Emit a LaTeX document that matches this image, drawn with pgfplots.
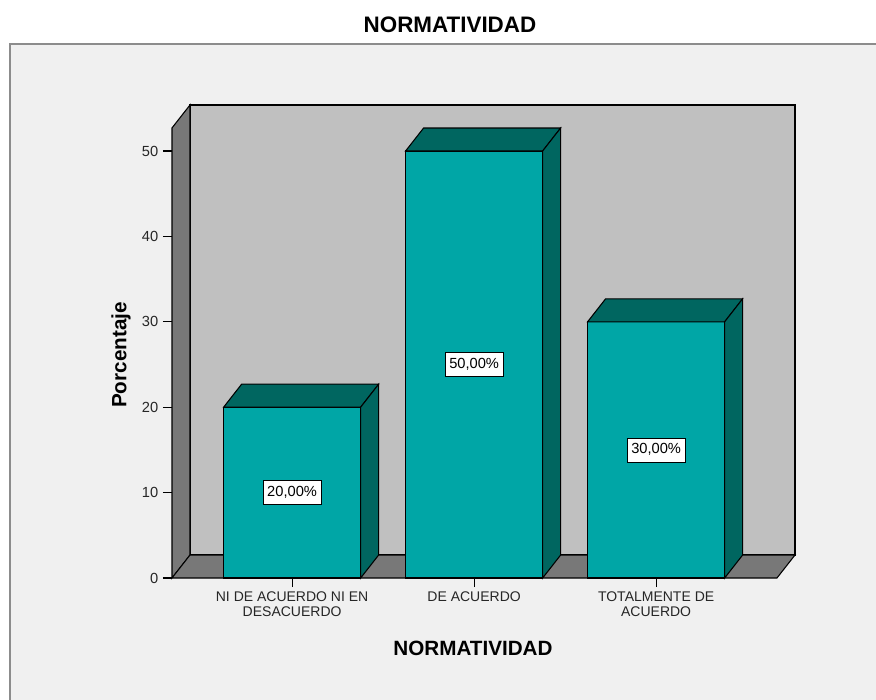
\documentclass[border=0pt]{standalone}
\usepackage{pgfplots}
\pgfplotsset{compat=1.18}
\usepackage{pgfplotstable}
\usepackage{fontspec}
\setmainfont{Liberation Sans}
\definecolor{bgframe}{HTML}{F0F0F0}
\definecolor{framegray}{HTML}{8C8C8C}
\definecolor{backwall}{HTML}{C0C0C0}
\definecolor{sidewall}{HTML}{787878}
\definecolor{barfront}{HTML}{00A6A6}
\definecolor{bardark}{HTML}{006660}

\pgfplotstableread{
x y
0 20
1 50
2 30
}\data

\newcommand{\bw}{0.753}
\newcommand{\ddx}{0.0989}
\newcommand{\ddy}{2.693}

\begin{document}
\begin{tikzpicture}
\useasboundingbox (0,0) rectangle (657pt,-525pt);
\fill[white] (0,0) rectangle (657pt,-525pt);
\draw[framegray, line width=1.5pt, fill=bgframe] (7.5pt,-33pt) rectangle (680pt,-540pt);
\begin{axis}[
  at={(129pt,-433.5pt)}, anchor=south west,
  x=136.5pt, y=6.405pt,
  xmin=-0.66, xmax=2.763, ymin=0, ymax=55.39,
  clip=false,
  axis lines*=left,
  axis line style={draw=none},
  /pgf/number format/assume math mode=true,
  tick align=outside,
  major tick length=6.75pt,
  tick style={black, line width=0.8pt},
  ytick={0,10,20,30,40,50},
  xtick={0,1,2},
  xticklabels={{NI DE ACUERDO NI EN\\DESACUERDO},{DE ACUERDO},{TOTALMENTE DE\\ACUERDO}},
  xticklabel style={align=center, font=\fontsize{10.5}{11.25}\selectfont, text=black!85},
  yticklabel style={font=\fontsize{11}{13}\selectfont, text=black!85},
  title={NORMATIVIDAD},
  title style={at={(axis description cs:0.4462,1.152)}, anchor=center, font=\bfseries\fontsize{16.8}{19}\selectfont},
  xlabel={NORMATIVIDAD},
  xlabel style={at={(axis description cs:0.4831,-0.148)}, anchor=center, font=\bfseries\fontsize{15.5}{18}\selectfont},
  ylabel={Porcentaje},
  ylabel style={at={(axis description cs:-0.0819,0.4715)}, anchor=center, font=\bfseries\fontsize{15.5}{18}\selectfont},
]
% walls
\addplot[forget plot, fill=backwall, draw=black, line width=0.8pt] coordinates {(-0.5611,2.693) (2.763,2.693) (2.763,55.39) (-0.5611,55.39)} -- cycle;
\addplot[forget plot, fill=sidewall, draw=black, line width=0.8pt] coordinates {(-0.66,0) (-0.5611,2.693) (-0.5611,55.39) (-0.66,52.70)} -- cycle;
\addplot[forget plot, fill=sidewall, draw=black, line width=0.8pt] coordinates {(-0.66,0) (2.664,0) (2.763,2.693) (-0.5611,2.693)} -- cycle;
% bar fronts
\addplot[ybar, bar width=\bw, bar shift=0pt, fill=barfront, draw=black, line width=0.8pt, forget plot] table[x=x, y=y] {\data};
% bar tops and sides
\pgfplotsinvokeforeach{0,1,2}{
  \pgfplotstablegetelem{#1}{x}\of\data \let\cx\pgfplotsretval
  \pgfplotstablegetelem{#1}{y}\of\data \let\cy\pgfplotsretval
  \pgfmathsetmacro\xl{\cx-\bw/2}
  \pgfmathsetmacro\xr{\cx+\bw/2}
  \pgfmathsetmacro\xld{\xl+\ddx}
  \pgfmathsetmacro\xrd{\xr+\ddx}
  \pgfmathsetmacro\cyd{\cy+\ddy}
  \edef\temp{\noexpand\addplot[forget plot, fill=bardark, draw=black, line width=0.8pt] coordinates {(\xl,\cy) (\xr,\cy) (\xrd,\cyd) (\xld,\cyd)} -- cycle;
    \noexpand\addplot[forget plot, fill=bardark, draw=black, line width=0.8pt] coordinates {(\xr,0) (\xr,\cy) (\xrd,\cyd) (\xrd,\ddy)} -- cycle;}
  \temp
}
% value labels
\addplot[draw=none, mark=none, forget plot, point meta=explicit,
  nodes near coords={\pgfmathprintnumber[fixed, fixed zerofill, precision=2, use comma]{\pgfplotspointmeta}\%},
  every node near coord/.style={anchor=center, fill=white, draw=black, line width=0.6pt, font=\fontsize{11}{13}\selectfont, inner xsep=3pt, inner ysep=4pt, text height=8pt, text depth=2pt}]
  table[x=x, y expr=\thisrow{y}/2, meta=y] {\data};
\end{axis}
\end{tikzpicture}
\end{document}
